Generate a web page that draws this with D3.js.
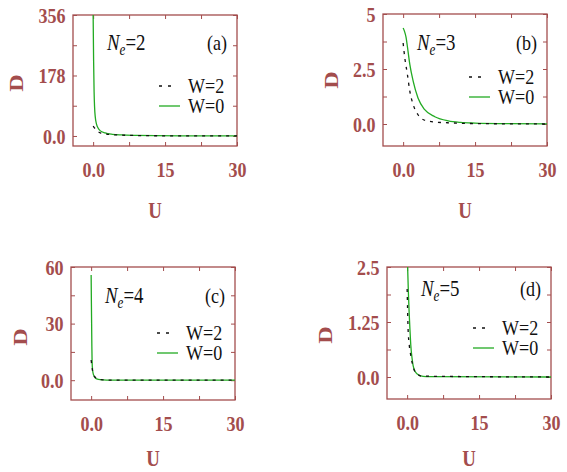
<!DOCTYPE html>
<html>
<head>
<meta charset="utf-8">
<script src="https://cdn.jsdelivr.net/npm/d3@7"></script>
<style>
  body { margin: 0; background: #fff; }
</style>
</head>
<body>
<script>
// values: [U, D]
var a_W0 = [[0,356],[0.1,220],[0.2,130],[0.3,85],[0.45,55],[0.7,35],[1.0,24],[1.5,15],[2.5,9],[4,5],[6,3],[9,1.8],[13,1],[20,0.5],[30,0.2]];
var a_W2 = [[0,29],[0.5,20],[1,13],[1.5,9],[2,7],[3,5],[5,3],[8,1.6],[12,0.8],[20,0.3],[30,0.1]];

var b_W0 = [[0,4.36],[0.3,4.2],[0.6,3.95],[0.9,3.5],[1.4,2.7],[2.1,1.94],[3.1,1.18],[4.5,0.65],[6.6,0.33],[9.4,0.14],[12,0.07],[15,0.04],[20,0.02],[30,0.01]];
var b_W2 = [[0,3.68],[0.35,3.0],[0.9,2.24],[1.4,1.48],[2.1,0.88],[3.1,0.42],[4.5,0.17],[6.6,0.09],[10,0.05],[15,0.02],[30,0]];

var c_W0 = [[0,55.7],[0.05,42],[0.1,30],[0.15,18],[0.2,10],[0.3,5.4],[0.5,2.8],[0.9,1],[1.5,0.4],[2.5,0.15],[4,0.05],[30,0]];
var c_W2 = [[0,10.7],[0.3,5],[0.55,2.8],[1,1.2],[1.5,0.5],[2.5,0.15],[4,0.05],[30,0]];

var d_W0 = [[0.1,2.5],[0.25,1.95],[0.42,1.46],[0.6,1.05],[0.77,0.71],[1.0,0.45],[1.25,0.26],[1.7,0.12],[2.2,0.06],[2.65,0.03],[4,0.01],[30,0]];
var d_W2 = [[0,2.0],[0.1,1.5],[0.2,1.08],[0.45,0.72],[0.77,0.48],[1.1,0.3],[1.5,0.15],[2.2,0.06],[3,0.02],[30,0]];

// ticks
var uTicks = [0, 7.5, 15, 22.5, 30];
var uLabels = ["0.0", "", "15", "", "30"];
var yTicksA = [0, 89, 178, 267, 356],   yLabelsA = ["0.0", "", "178", "", "356"];
var yTicksB = [0, 1.25, 2.5, 3.75, 5],  yLabelsB = ["0.0", "", "2.5", "", "5"];
var yTicksC = [0, 15, 30, 45, 60],      yLabelsC = ["0.0", "", "30", "", "60"];
var yTicksD = [0, 0.625, 1.25, 1.875, 2.5], yLabelsD = ["0.0", "", "1.25", "", "2.5"];

var ne = ["2", "3", "4", "5"];
var tags = ["(a)", "(b)", "(c)", "(d)"];
var legendNames = ["W=2", "W=0"];

var red = "#a34d4d", green = "#22aa22", k = 0.82;

var panels = [
  {box: [73, 237, 15, 146],  yDom: [-29.5, 356], ticks: yTicksA, labels: yLabelsA, w0: a_W0, w2: a_W2, D: [23, 83],  uY: 218, neY: 50,  leg: 86},
  {box: [383, 547, 14, 146], yDom: [-1, 5],      ticks: yTicksB, labels: yLabelsB, w0: b_W0, w2: b_W2, D: [338, 80], uY: 218, neY: 50,  leg: 77},
  {box: [71, 235, 267, 400], yDom: [-10.5, 60],  ticks: yTicksC, labels: yLabelsC, w0: c_W0, w2: c_W2, D: [27, 337], uY: 466, neY: 303, leg: 333},
  {box: [387, 551, 267, 399], yDom: [-0.5, 2.5], ticks: yTicksD, labels: yLabelsD, w0: d_W0, w2: d_W2, D: [332, 335], uY: 466, neY: 296, leg: 328}
];

var svg = d3.select("body").append("svg")
    .attr("width", 567)
    .attr("height", 472);

function styleAxis(g, labelled) {
  g.select(".domain").remove();
  g.selectAll(".tick line").attr("stroke", red).attr("stroke-width", 1);
  g.selectAll(".tick text")
      .attr("fill", red)
      .style("font-family", "'Liberation Serif', serif")
      .style("font-weight", "bold")
      .style("font-size", "22px")
      .attr("transform", "scale(" + k + ",1)");
  if (!labelled) g.selectAll(".tick text").remove();
}

panels.forEach(function(p, i) {
  var left = p.box[0], right = p.box[1], top = p.box[2], bottom = p.box[3];

  var x = d3.scaleLinear().domain([-4.2, 30]).range([left, right]);
  var y = d3.scaleLinear().domain(p.yDom).range([bottom, top]);

  var g = svg.append("g");

  g.append("clipPath").attr("id", "clip" + i)
    .append("rect")
      .attr("x", left).attr("y", top)
      .attr("width", right - left).attr("height", bottom - top);

  g.append("g").attr("transform", "translate(0," + bottom + ")")
      .call(d3.axisBottom(x).tickValues(uTicks).tickSize(-4).tickPadding(15)
        .tickFormat(function(d, j) { return uLabels[j]; }))
      .call(styleAxis, true);
  g.append("g").attr("transform", "translate(0," + top + ")")
      .call(d3.axisTop(x).tickValues(uTicks).tickSize(-4))
      .call(styleAxis, false);
  g.append("g").attr("transform", "translate(" + left + ",0)")
      .call(d3.axisLeft(y).tickValues(p.ticks).tickSize(-4).tickPadding(9)
        .tickFormat(function(d, j) { return p.labels[j]; }))
      .call(styleAxis, true);
  g.append("g").attr("transform", "translate(" + right + ",0)")
      .call(d3.axisRight(y).tickValues(p.ticks).tickSize(-4))
      .call(styleAxis, false);

  g.append("rect")
      .attr("x", left).attr("y", top)
      .attr("width", right - left).attr("height", bottom - top)
      .attr("fill", "none")
      .attr("stroke", red)
      .attr("stroke-width", 1.3);

  var line = d3.line()
      .x(function(d) { return x(d[0]); })
      .y(function(d) { return y(d[1]); })
      .curve(d3.curveMonotoneX);

  var curves = g.append("g").attr("clip-path", "url(#clip" + i + ")");
  curves.append("path")
      .datum(p.w0)
      .attr("fill", "none")
      .attr("stroke", green)
      .attr("stroke-width", 1.3)
      .attr("d", line);
  curves.append("path")
      .datum(p.w2)
      .attr("fill", "none")
      .attr("stroke", "#111")
      .attr("stroke-width", 1.3)
      .attr("stroke-dasharray", "3,5")
      .attr("d", line);

  // axis titles
  g.append("text")
      .attr("transform", "translate(" + ((left + right) / 2) + "," + p.uY + ") scale(" + k + ",1)")
      .attr("text-anchor", "middle")
      .attr("fill", red)
      .style("font-family", "'Liberation Serif', serif")
      .style("font-weight", "bold")
      .style("font-size", "23px")
      .text("U");
  g.append("text")
      .attr("transform", "translate(" + p.D[0] + "," + p.D[1] + ") scale(" + k + ",1) rotate(-90)")
      .attr("text-anchor", "middle")
      .attr("fill", red)
      .style("font-family", "'Liberation Serif', serif")
      .style("font-weight", "bold")
      .style("font-size", "24px")
      .text("D");

  // N_e label and panel tag
  var t = g.append("text")
      .attr("transform", "translate(" + (left + 34) + "," + p.neY + ") scale(" + k + ",1)")
      .style("font-family", "'Liberation Serif', serif")
      .style("font-size", "23px")
      .attr("fill", "#111");
  t.append("tspan").style("font-style", "italic").text("N");
  t.append("tspan").style("font-style", "italic").style("font-size", "16px").attr("dy", 5).text("e");
  t.append("tspan").attr("dy", -5).text("=" + ne[i]);

  g.append("text")
      .attr("transform", "translate(" + (right - 10) + "," + p.neY + ") scale(" + k + ",1)")
      .attr("text-anchor", "end")
      .style("font-family", "'Liberation Serif', serif")
      .style("font-size", "22px")
      .attr("fill", "#111")
      .text(tags[i]);

  // legend
  var lx = right - 78;
  g.append("line")
      .attr("x1", lx).attr("x2", lx + 14)
      .attr("y1", p.leg).attr("y2", p.leg)
      .attr("stroke", "#111").attr("stroke-width", 1.3)
      .attr("stroke-dasharray", "3,6");
  g.append("line")
      .attr("x1", lx).attr("x2", lx + 21)
      .attr("y1", p.leg + 20).attr("y2", p.leg + 20)
      .attr("stroke", green).attr("stroke-width", 1.3);
  legendNames.forEach(function(name, j) {
    g.append("text")
        .attr("transform", "translate(" + (right - 49) + "," + (p.leg + 7 + 20 * j) + ") scale(" + k + ",1)")
        .style("font-family", "'Liberation Serif', serif")
        .style("font-size", "22px")
        .attr("fill", "#111")
        .text(name);
  });
});
</script>
</body>
</html>
